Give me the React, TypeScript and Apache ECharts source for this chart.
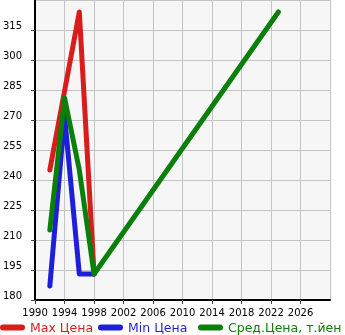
import React, { useEffect, useRef } from "react";
import * as echarts from "echarts";

const maxYears = [1992, 1996, 1998];
const maxValues = [245, 324, 193];
const minYears = [1992, 1994, 1996, 1998];
const minValues = [187, 272, 193, 193];
const avgYears = [1992, 1994, 1996, 1998, 2023];
const avgValues = [215, 281, 245, 193, 324];
const seriesNames = ["Max Цена", "Min Цена", "Сред.Цена, т.йен"];
const seriesColors = ["#d91c1c", "#1f1fd9", "#0a800a"];
const legendLefts = [0, 98, 198];

const FONT = "DejaVu Sans";

export default function App() {
  const ref = useRef<HTMLDivElement>(null);
  useEffect(() => {
    if (!ref.current) return;
    const chart = echarts.init(ref.current, null, { renderer: "svg" });
    const pairs = (xs: number[], ys: number[]) => xs.map((x, i) => [x, ys[i]]);
    const datasets = [
      pairs(maxYears, maxValues),
      pairs(minYears, minValues),
      pairs(avgYears, avgValues),
    ];
    chart.setOption({
      animation: false,
      grid: {
        left: 31.5,
        right: 15,
        top: 0,
        bottom: 35,
        show: true,
        backgroundColor: "#f6f6f6",
        borderWidth: 0,
      },
      xAxis: {
        type: "value",
        min: 1990,
        max: 2030,
        interval: 4,
        axisLine: { show: true, lineStyle: { color: "#000", width: 2 } },
        axisTick: { show: true, length: 4, lineStyle: { color: "#444" } },
        splitLine: { show: true, lineStyle: { color: "#c4c4c4", width: 1 } },
        axisLabel: {
          color: "#000",
          fontFamily: FONT,
          fontSize: 10,
          margin: 7,
          showMaxLabel: false,
          formatter: (v: number) => String(v),
        },
      },
      yAxis: {
        type: "value",
        min: 180,
        max: 330,
        interval: 15,
        axisLine: { show: true, lineStyle: { color: "#000", width: 2 } },
        axisTick: { show: true, length: 4, lineStyle: { color: "#444" } },
        splitLine: { show: true, lineStyle: { color: "#c4c4c4", width: 1 } },
        axisLabel: {
          color: "#000",
          fontFamily: FONT,
          fontSize: 10,
          margin: 13,
          verticalAlign: "bottom",
          showMaxLabel: false,
        },
      },
      legend: seriesNames.map((n, i) => ({
        left: legendLefts[i],
        top: 321,
        padding: 0,
        itemWidth: 25,
        itemHeight: 6,
        icon: "path://M3 0L22 0A3 3 0 0 1 22 6L3 6A3 3 0 0 1 3 0Z",
        textStyle: { fontFamily: FONT, fontSize: 12.5, color: seriesColors[i] },
        data: [{ name: n }],
      })),
      series: datasets.map((d, i) => ({
        type: "line",
        name: seriesNames[i],
        data: d,
        showSymbol: false,
        symbol: "none",
        color: seriesColors[i],
        lineStyle: { width: 5, color: seriesColors[i], cap: "round", join: "round" },
      })),
    });
    return () => chart.dispose();
  }, []);
  return (
    <div
      ref={ref}
      style={{ position: "fixed", left: 0, top: 0, width: 345, height: 335 }}
    />
  );
}
